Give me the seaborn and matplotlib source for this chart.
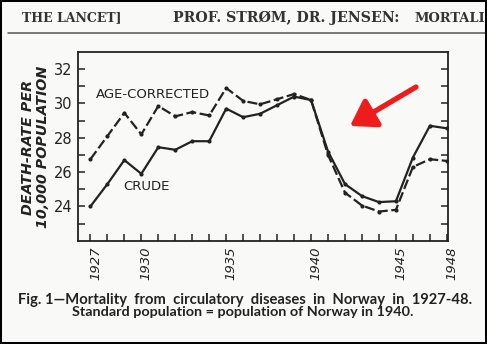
import numpy as np
import pandas as pd
import seaborn as sns
import matplotlib
matplotlib.use("Agg")
import matplotlib.pyplot as plt
from matplotlib.patches import Rectangle
from matplotlib.lines import Line2D
from matplotlib.transforms import ScaledTranslation

# Death-rate per 10,000 population, circulatory diseases, Norway
years = list(range(1927, 1949))
crude = [24.0, 25.3, 26.7, 25.9, 27.45, 27.3, 27.8, 27.8, 29.7, 29.2, 29.4,
         29.9, 30.4, 30.2, 27.2, 25.3, 24.6, 24.25, 24.3, 26.85, 28.7, 28.55]
age_corrected = [26.75, 28.1, 29.45, 28.2, 29.85, 29.25, 29.5, 29.3, 30.9, 30.15, 29.95,
                 30.25, 30.55, 30.2, 27.0, 24.8, 24.05, 23.7, 23.8, 26.3, 26.75, 26.65]
xtick_years = [1927, 1930, 1935, 1940, 1945, 1948]
ytick_values = [24, 26, 28, 30, 32]

df = pd.DataFrame({
    "year": years * 2,
    "rate": crude + age_corrected,
    "series": ["CRUDE"] * len(years) + ["AGE-CORRECTED"] * len(years),
})

sns.set_theme(style="white")
plt.rcParams["font.family"] = ["DejaVu Sans"]

paper = "#f9f9f7"
ink = "#222222"

fig = plt.figure(figsize=(4.87, 3.44), dpi=100, facecolor=paper)
ax = fig.add_axes([0.1595, 0.3003, 0.7598, 0.5485])
ax.set_facecolor(paper)

sns.lineplot(data=df, x="year", y="rate", hue="series", style="series",
             palette={"CRUDE": ink, "AGE-CORRECTED": ink},
             dashes={"CRUDE": "", "AGE-CORRECTED": (4.5, 1.6)},
             markers={"CRUDE": "o", "AGE-CORRECTED": "o"},
             markersize=3, markeredgewidth=0, linewidth=1.6,
             legend=False, ax=ax)

ax.set_xlim(1926.25, 1948.05)
ax.set_ylim(22, 33)
ax.set_xlabel("")
ax.set_ylabel("")

ax.set_xticks(xtick_years)
ax.set_xticks(years, minor=True)
ax.set_yticks(ytick_values)
ax.set_yticks(np.arange(23, 33, 1), minor=True)
ax.set_xticklabels([str(y) for y in xtick_years], rotation=90, style="italic",
                   fontsize=9.5, color=ink)
ax.set_yticklabels([str(v) for v in ytick_values], fontsize=10.5, color=ink)
ax.tick_params(axis="both", which="both", direction="in", length=5, width=1.1,
               color=ink, bottom=True, left=True, right=True, top=False)
ax.tick_params(axis="x", which="both", pad=4)
ax.tick_params(axis="y", which="both", pad=4)
for lab in ax.get_xticklabels():
    lab.set_transform(lab.get_transform() + ScaledTranslation(0.05, 0, fig.dpi_scale_trans))

for side in ["left", "right", "top", "bottom"]:
    ax.spines[side].set_visible(True)
    ax.spines[side].set_color(ink)
    ax.spines[side].set_linewidth(1.3)

# Series labels
ax.text(1927.3, 30.55, "AGE-CORRECTED", fontsize=9.5, color=ink, va="center", ha="left")
ax.text(1928.95, 25.15, "CRUDE", fontsize=9.5, color=ink, va="center", ha="left")

# Axis title
fig.text(0.072, 0.572, "DEATH-RATE PER\n10,000 POPULATION", rotation=90,
         fontsize=10.3, fontweight="bold", style="italic", color=ink,
         ha="center", va="center", linespacing=1.1)

# Red pointer arrow
ax.annotate("", xy=(350, 218), xycoords="figure pixels",
            xytext=(416, 257), textcoords="figure pixels",
            arrowprops=dict(arrowstyle="-|>,head_length=1.0,head_width=0.65",
                            color="#ee1c1c", lw=3.8, mutation_scale=15,
                            shrinkA=0, shrinkB=0))

# Running head of the journal page
fig.text(22 / 487, 1 - 18 / 344, "THE LANCET]", fontsize=9, fontweight="bold",
         family="DejaVu Serif", color="#333333", va="center", ha="left")
fig.text(173 / 487, 1 - 18 / 344, "PROF. STRØM, DR. JENSEN:",
         fontsize=10.2, fontweight="bold", family="DejaVu Serif", color="#333333",
         va="center", ha="left")
fig.text(414 / 487, 1 - 18 / 344, "MORTALI",
         fontsize=9.4, fontweight="bold", family="DejaVu Serif", color="#333333",
         va="center", ha="left")
fig.add_artist(Line2D([8 / 487, 1.0], [1 - 33 / 344, 1 - 33 / 344],
                      transform=fig.transFigure, color="#555555", lw=1.1))

# Caption
fig.text(245 / 487, 1 - 300 / 344,
         "Fig. 1—Mortality  from  circulatory  diseases  in  Norway  in  1927-48.",
         fontsize=10.6, fontweight="bold", family="Lato", color=ink,
         ha="center", va="center")
fig.text(243 / 487, 1 - 312 / 344,
         "Standard population = population of Norway in 1940.",
         fontsize=10.4, fontweight="bold", family="Lato", color=ink,
         ha="center", va="center")

# Page border
fig.add_artist(Rectangle((0, 0), 1, 1, transform=fig.transFigure, fill=False,
                         edgecolor="black", lw=2.9, zorder=10))

fig.savefig("out.png", dpi=100, facecolor=paper)
